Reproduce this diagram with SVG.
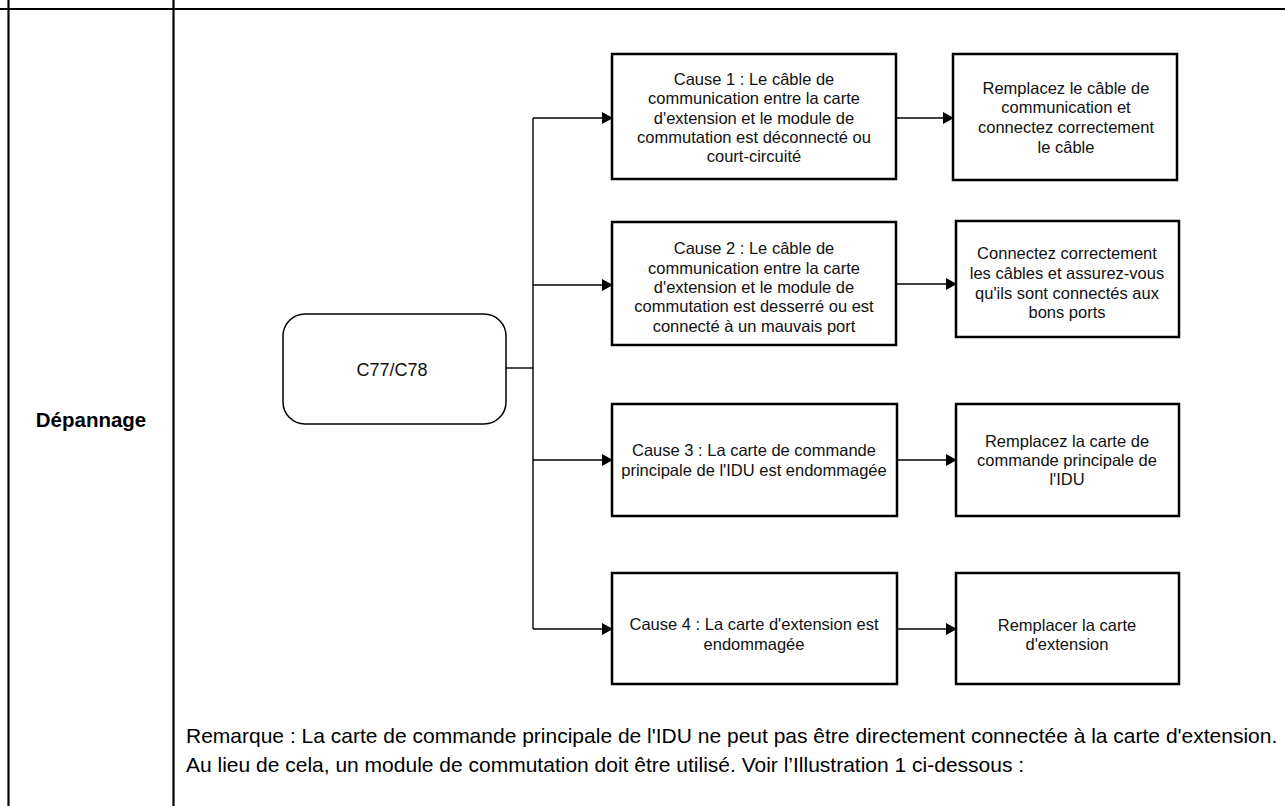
<svg xmlns="http://www.w3.org/2000/svg" width="1285" height="806" viewBox="0 0 1285 806">
<defs>
<marker id="arr" markerWidth="11" markerHeight="12" refX="10" refY="6" orient="auto" markerUnits="userSpaceOnUse">
<path d="M0,0 L11,6 L0,12 z" fill="#000"/>
</marker>
<style>
.tbl{stroke:#000;stroke-width:2.2;fill:none}
.box{fill:#fff;stroke:#000;stroke-width:2.5}
.rbox{fill:#fff;stroke:#000;stroke-width:1.5}
.con{stroke:#000;stroke-width:1.4;fill:none}
.t{font-family:"Liberation Sans",Arial,sans-serif;font-size:16.5px;fill:#111;text-anchor:middle}
.c{font-family:"Liberation Sans",Arial,sans-serif;font-size:18px;fill:#111;text-anchor:middle}
.lbl{font-family:"Liberation Sans",Arial,sans-serif;font-size:20.5px;font-weight:bold;fill:#000;text-anchor:middle}
.note{font-family:"Liberation Sans",Arial,sans-serif;font-size:21px;fill:#000}
</style>
</defs>
<rect width="1285" height="806" fill="#fff"/>
<g id="table">
<line class="tbl" x1="0" y1="9" x2="1285" y2="9"/>
<line class="tbl" x1="8.5" y1="0" x2="8.5" y2="806"/>
<line class="tbl" x1="173.5" y1="0" x2="173.5" y2="806"/>
<text class="lbl" x="91" y="427">Dépannage</text>
</g>
<g id="connectors">
<polyline class="con" points="506,368 533,368"/>
<line class="con" x1="533" y1="118" x2="533" y2="629"/>
<line class="con" x1="533" y1="118" x2="612" y2="118" marker-end="url(#arr)"/>
<line class="con" x1="533" y1="285" x2="612" y2="285" marker-end="url(#arr)"/>
<line class="con" x1="533" y1="460" x2="612" y2="460" marker-end="url(#arr)"/>
<line class="con" x1="533" y1="629" x2="612" y2="629" marker-end="url(#arr)"/>
<line class="con" x1="896" y1="118" x2="953" y2="118" marker-end="url(#arr)"/>
<line class="con" x1="896" y1="284" x2="956" y2="284" marker-end="url(#arr)"/>
<line class="con" x1="897" y1="460" x2="956" y2="460" marker-end="url(#arr)"/>
<line class="con" x1="897" y1="629" x2="956" y2="629" marker-end="url(#arr)"/>
</g>
<g id="start">
<rect class="rbox" x="283" y="314" width="223" height="110" rx="22"/>
<text class="c" x="392" y="376">C77/C78</text>
</g>
<g id="cause1">
<rect class="box" x="612" y="54" width="284" height="125"/>
<text class="t" x="754" y="85">Cause 1 : Le câble de</text>
<text class="t" x="754" y="104">communication entre la carte</text>
<text class="t" x="754" y="124">d'extension et le module de</text>
<text class="t" x="754" y="143">commutation est déconnecté ou</text>
<text class="t" x="754" y="162">court-circuité</text>
</g>
<g id="fix1">
<rect class="box" x="953" y="54" width="224" height="126"/>
<text class="t" x="1066" y="94">Remplacez le câble de</text>
<text class="t" x="1066" y="113">communication et</text>
<text class="t" x="1066" y="133">connectez correctement</text>
<text class="t" x="1066" y="153">le câble</text>
</g>
<g id="cause2">
<rect class="box" x="612" y="222" width="284" height="123"/>
<text class="t" x="754" y="254">Cause 2 : Le câble de</text>
<text class="t" x="754" y="274">communication entre la carte</text>
<text class="t" x="754" y="293">d'extension et le module de</text>
<text class="t" x="754" y="312">commutation est desserré ou est</text>
<text class="t" x="754" y="332">connecté à un mauvais port</text>
</g>
<g id="fix2">
<rect class="box" x="956" y="221" width="223" height="116"/>
<text class="t" x="1067" y="259">Connectez correctement</text>
<text class="t" x="1067" y="279">les câbles et assurez-vous</text>
<text class="t" x="1067" y="299">qu'ils sont connectés aux</text>
<text class="t" x="1067" y="318">bons ports</text>
</g>
<g id="cause3">
<rect class="box" x="612" y="404" width="285" height="112"/>
<text class="t" x="754" y="456">Cause 3 : La carte de commande</text>
<text class="t" x="754" y="476">principale de l'IDU est endommagée</text>
</g>
<g id="fix3">
<rect class="box" x="956" y="404" width="223" height="112"/>
<text class="t" x="1067" y="447">Remplacez la carte de</text>
<text class="t" x="1067" y="466">commande principale de</text>
<text class="t" x="1067" y="485">l'IDU</text>
</g>
<g id="cause4">
<rect class="box" x="612" y="573" width="285" height="111"/>
<text class="t" x="754" y="630">Cause 4 : La carte d'extension est</text>
<text class="t" x="754" y="650">endommagée</text>
</g>
<g id="fix4">
<rect class="box" x="956" y="573" width="223" height="111"/>
<text class="t" x="1067" y="631">Remplacer la carte</text>
<text class="t" x="1067" y="650">d'extension</text>
</g>
<g id="note">
<text class="note" x="186" y="743">Remarque : La carte de commande principale de l'IDU ne peut pas être directement connectée à la carte d'extension.</text>
<text class="note" x="186" y="772">Au lieu de cela, un module de commutation doit être utilisé. Voir l’Illustration 1 ci-dessous :</text>
</g>
</svg>
